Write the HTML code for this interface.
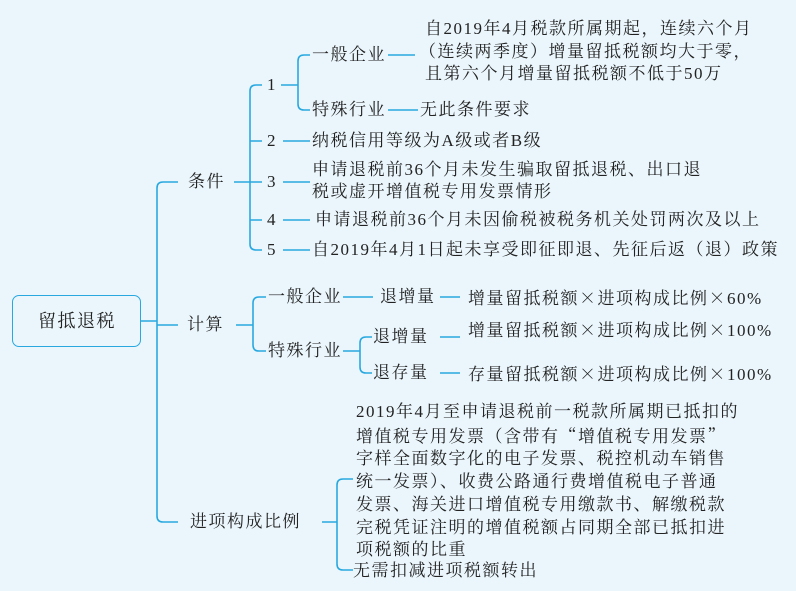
<!DOCTYPE html>
<html><head><meta charset="utf-8"><style>
html,body{margin:0;padding:0}
body{width:796px;height:591px;background:#eaf6fc;position:relative;overflow:hidden;font-family:"Liberation Serif","Noto Serif CJK SC",serif;color:#222}
.t{position:absolute;font-size:17px;letter-spacing:1.5px;white-space:nowrap;line-height:22px;height:22px}
.m{position:absolute;font-size:17px;letter-spacing:1.5px;white-space:nowrap}
.c{font-family:"Noto Serif CJK SC",serif}
svg{position:absolute;left:0;top:0}
.box{position:absolute;left:12px;top:295px;width:127px;height:50px;border:1.5px solid #29a8e0;border-radius:7px;background:#eaf6fc}
</style></head><body>
<svg width="796" height="591" fill="none" stroke="#29a8e0" stroke-width="1.6">
<path d="M178,182 H163 Q157,182 157,188 V516 Q157,522 163,522 H178 M141,321 H157 M157,325 H178"/>
<path d="M234,182 H250 M262,85 H256 Q250,85 250,91 V244 Q250,250 256,250 H262 M250,141 H262 M250,182 H262 M250,220 H262 M281,85 H298 M283,141 H310 M283,182 H310 M283,220 H310 M283,250 H310"/>
<path d="M310,55 H304 Q298,55 298,61 V104 Q298,110 304,110 H310 M388,55 H415 M388,110 H418"/>
<path d="M236,325 H253 M266,297 H259 Q253,297 253,303 V345 Q253,351 259,351 H266 M343,297 H373 M440,297 H460 M343,351 H360 M372,337 H366 Q360,337 360,343 V367 Q360,373 366,373 H372 M440,337 H460 M440,373 H460"/>
<path d="M322,522 H337 M353,479 H343 Q337,479 337,485 V564 Q337,570 343,570 H353"/>
</svg>
<div class="box"></div>
<div class="t" style="left:38px;top:310px;font-size:18px">留抵退税</div>
<div class="t" style="left:188px;top:171px">条件</div>
<div class="t" style="left:187px;top:314px">计算</div>
<div class="t" style="left:190px;top:511px">进项构成比例</div>

<div class="t" style="left:267px;top:74px">1</div>
<div class="t" style="left:267px;top:130px">2</div>
<div class="t" style="left:267px;top:171px">3</div>
<div class="t" style="left:267px;top:209px">4</div>
<div class="t" style="left:267px;top:239px">5</div>

<div class="t" style="left:312px;top:44px">一般企业</div>
<div class="t" style="left:312px;top:99px">特殊行业</div>
<div class="m" style="left:425px;top:18px;line-height:22.5px">自2019年4月税款所属期起，连续六个月<br><span style="margin-left:-6px">（连续两季度）增量留抵税额均大于零，</span><br>且第六个月增量留抵税额不低于50万</div>
<div class="t" style="left:420px;top:99px">无此条件要求</div>
<div class="t" style="left:312px;top:130px">纳税信用等级为A级或者B级</div>
<div class="m" style="left:312px;top:159px;line-height:22px">申请退税前36个月未发生骗取留抵退税、出口退<br>税或虚开增值税专用发票情形</div>
<div class="t" style="left:315px;top:209px">申请退税前36个月未因偷税被税务机关处罚两次及以上</div>
<div class="t" style="left:312px;top:239px">自2019年4月1日起未享受即征即退、先征后返（退）政策</div>

<div class="t" style="left:268px;top:286px">一般企业</div>
<div class="t" style="left:268px;top:340px">特殊行业</div>
<div class="t" style="left:380px;top:286px">退增量</div>
<div class="t" style="left:373px;top:326px">退增量</div>
<div class="t" style="left:373px;top:362px">退存量</div>
<div class="t" style="left:468px;top:286px">增量留抵税额<span class="c">×</span>进项构成比例<span class="c">×</span>60%</div>
<div class="t" style="left:468px;top:318px">增量留抵税额<span class="c">×</span>进项构成比例<span class="c">×</span>100%</div>
<div class="t" style="left:468px;top:362px">存量留抵税额<span class="c">×</span>进项构成比例<span class="c">×</span>100%</div>

<div class="m" style="left:356px;top:401px;line-height:22.7px">2019年4月至申请退税前一税款所属期已抵扣的<br>增值税专用发票（含带有<span class="c">“</span>增值税专用发票<span class="c">”</span><br>字样全面数字化的电子发票、税控机动车销售<br>统一发票）、收费公路通行费增值税电子普通<br>发票、海关进口增值税专用缴款书、解缴税款<br>完税凭证注明的增值税额占同期全部已抵扣进<br>项税额的比重</div>
<div class="t" style="left:353px;top:560px">无需扣减进项税额转出</div>
</body></html>
